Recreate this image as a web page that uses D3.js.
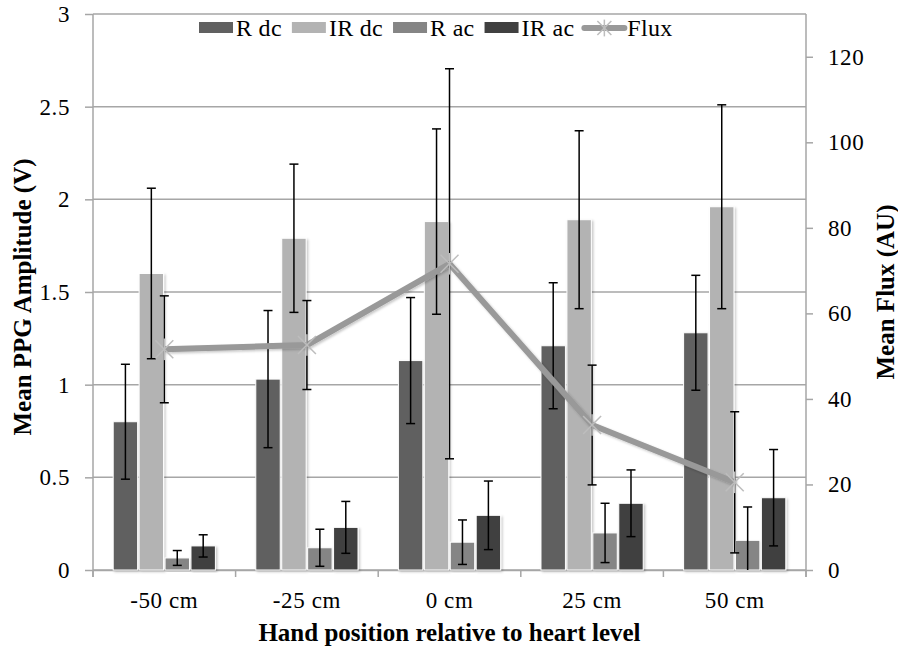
<!DOCTYPE html>
<html lang="en">
<head>
<meta charset="UTF-8">
<title>PPG amplitude and flux vs hand position</title>
<script src="https://d3js.org/d3.v7.min.js"></script>
<style>
    body, html {
        margin: 0;
        padding: 0;
        background: #fff;
        overflow: hidden;
    }
    svg {
        display: block;
    }
</style>
</head>
<body>
<svg id="chart" width="898" height="647"></svg>
<script>

// values
const categories = ["-50 cm", "-25 cm", "0 cm", "25 cm", "50 cm"];
const seriesNames = ["R dc", "IR dc", "R ac", "IR ac"];
const rDc = [0.80, 1.03, 1.13, 1.21, 1.28];
const rDcErr = [0.31, 0.37, 0.34, 0.34, 0.31];
const irDc = [1.60, 1.79, 1.88, 1.89, 1.96];
const irDcErr = [0.46, 0.40, 0.50, 0.48, 0.55];
const rAc = [0.065, 0.12, 0.15, 0.20, 0.16];
const rAcErr = [0.04, 0.10, 0.12, 0.16, 0.18];
const irAc = [0.13, 0.23, 0.295, 0.36, 0.39];
const irAcErr = [0.06, 0.14, 0.185, 0.18, 0.26];
const flux = [51.6, 52.6, 71.6, 33.9, 20.5];
const fluxErr = [12.5, 10.4, 45.6, 14.0, 16.5];
const leftTicks = [0, 0.5, 1, 1.5, 2, 2.5, 3];
const rightTicks = [0, 20, 40, 60, 80, 100, 120];

const barValues = [rDc, irDc, rAc, irAc];
const barErrors = [rDcErr, irDcErr, rAcErr, irAcErr];
const barColors = ["#606060", "#b3b3b3", "#858585", "#404040"];
const fluxColor = "#999999";
const gridColor = "#a6a6a6";
const serif = "Liberation Serif, DejaVu Serif, Noto Serif, serif";

const svg = d3.select("#chart");
const margin = {top: 14, right: 92, bottom: 77, left: 93};
const width = 898 - margin.left - margin.right;
const height = 647 - margin.top - margin.bottom;

// soft shadow like the office chart
const defs = svg.append("defs");
defs.append("filter").attr("id", "shadow")
    .attr("x", "-20%").attr("y", "-5%").attr("width", "150%").attr("height", "115%")
    .append("feDropShadow")
    .attr("dx", 1.5).attr("dy", 1.5).attr("stdDeviation", 1.2)
    .attr("flood-color", "#000").attr("flood-opacity", 0.22);

const g = svg.append("g").attr("transform", `translate(${margin.left},${margin.top})`);

const x0 = d3.scaleBand().domain(categories).range([0, width]);
const barW = x0.bandwidth() / 5.5;
const x1 = d3.scaleBand().domain(seriesNames).range([0, barW * 4]);
const groupOffset = (x0.bandwidth() - barW * 4) / 2;
const y = d3.scaleLinear().domain([0, 3]).range([height, 0]);
const yR = d3.scaleLinear().domain([0, 130]).range([height, 0]);

// gridlines
g.append("g").selectAll("line").data(leftTicks).join("line")
    .attr("x1", 0).attr("x2", width)
    .attr("y1", d => y(d)).attr("y2", d => y(d))
    .attr("stroke", gridColor).attr("stroke-width", 1.5);

function styleAxis(ax) {
    ax.attr("font-family", serif).attr("font-size", 23);
    ax.select(".domain").attr("stroke", gridColor).attr("stroke-width", 1.5);
    ax.selectAll(".tick line").attr("stroke", gridColor).attr("stroke-width", 1.5);
    ax.selectAll("text").attr("fill", "#000").attr("letter-spacing", 0.6);
}

// left axis
const yAxis = g.append("g").call(d3.axisLeft(y).tickValues(leftTicks).tickSize(8).tickPadding(15)
    .tickFormat(d3.format("")));
styleAxis(yAxis);
yAxis.select(".domain").attr("d", `M0,${height + 7}V0`);

// right axis
const yRAxis = g.append("g").attr("transform", `translate(${width},0)`)
    .call(d3.axisRight(yR).tickValues(rightTicks).tickSize(7).tickPadding(15));
styleAxis(yRAxis);
yRAxis.select(".domain").attr("d", `M0,${height + 7}V0`);

// bottom axis: labels in the middle, ticks on the category edges
const xAxis = g.append("g").attr("transform", `translate(0,${height})`)
    .call(d3.axisBottom(x0).tickSize(0).tickPadding(22));
styleAxis(xAxis);
xAxis.append("g").selectAll("line").data(d3.range(categories.length + 1)).join("line")
    .attr("x1", i => i * x0.step()).attr("x2", i => i * x0.step())
    .attr("y1", 0).attr("y2", 7)
    .attr("stroke", gridColor).attr("stroke-width", 1.5);

// bars
const groups = g.append("g").selectAll("g").data(categories).join("g")
    .attr("transform", d => `translate(${x0(d) + groupOffset},0)`);

groups.selectAll("rect").data((d, i) => seriesNames.map((s, k) => ({s, k, v: barValues[k][i]})))
    .join("rect")
    .attr("x", d => x1(d.s) + 0.75)
    .attr("width", x1.bandwidth() - 1.5)
    .attr("y", d => y(d.v))
    .attr("height", d => y(0) - y(d.v))
    .attr("fill", d => barColors[d.k])
    .attr("stroke", "#fff").attr("stroke-width", 1)
    .attr("filter", "url(#shadow)");

// error bars for bars
function errorBar(sel, cx, top, bottom) {
    sel.append("line").attr("x1", cx).attr("x2", cx).attr("y1", top).attr("y2", bottom);
    sel.append("line").attr("x1", cx - 4.5).attr("x2", cx + 4.5).attr("y1", top).attr("y2", top);
    if (bottom < height - 0.5) {
        sel.append("line").attr("x1", cx - 4.5).attr("x2", cx + 4.5).attr("y1", bottom).attr("y2", bottom);
    }
}

const errG = g.append("g").attr("stroke", "#000").attr("stroke-width", 1.5);
categories.forEach((c, i) => {
    seriesNames.forEach((s, k) => {
        const cx = x0(c) + groupOffset + x1(s) + x1.bandwidth() / 2;
        const v = barValues[k][i], e = barErrors[k][i];
        errorBar(errG, cx, y(v + e), y(Math.max(0, v - e)));
    });
});

// flux line
const fx = (d, i) => x0(categories[i]) + x0.bandwidth() / 2;
g.append("path")
    .datum(flux)
    .attr("d", d3.line().x(fx).y(d => yR(d)))
    .attr("fill", "none").attr("stroke", fluxColor).attr("stroke-width", 6)
    .attr("stroke-linejoin", "round")
    .attr("filter", "url(#shadow)");

const fluxErrG = g.append("g").attr("stroke", "#000").attr("stroke-width", 1.5);
flux.forEach((v, i) => {
    errorBar(fluxErrG, fx(v, i), yR(v + fluxErr[i]), yR(Math.max(0, v - fluxErr[i])));
});

function asterisk(sel, cx, cy, r) {
    const a = sel.append("g").attr("transform", `translate(${cx},${cy})`)
        .attr("stroke", "#bdbdbd").attr("stroke-width", 1.5);
    a.append("line").attr("x1", -r).attr("x2", r).attr("y1", -r).attr("y2", r);
    a.append("line").attr("x1", -r).attr("x2", r).attr("y1", r).attr("y2", -r);
    a.append("line").attr("x1", 0).attr("x2", 0).attr("y1", -r * 1.2).attr("y2", r * 1.2);
}
const markG = g.append("g");
flux.forEach((v, i) => asterisk(markG, fx(v, i), yR(v), 9));

// axis titles
svg.append("text")
    .attr("transform", `translate(31,${margin.top + height / 2 + 5}) rotate(-90)`)
    .attr("font-family", serif)
    .attr("text-anchor", "middle").attr("font-size", 25).attr("font-weight", "bold")
    .text("Mean PPG Amplitude (V)");

svg.append("text")
    .attr("transform", `translate(894,${margin.top + height / 2}) rotate(-90)`)
    .attr("font-family", serif)
    .attr("text-anchor", "middle").attr("font-size", 25).attr("font-weight", "bold")
    .text("Mean Flux (AU)");

svg.append("text")
    .attr("x", margin.left + width / 2).attr("y", 641)
    .attr("font-family", serif)
    .attr("text-anchor", "middle").attr("font-size", 25).attr("font-weight", "bold")
    .text("Hand position relative to heart level");

// legend
const legend = svg.append("g").attr("transform", "translate(199,0)");
let lx = 0;
seriesNames.concat(["Flux"]).forEach((name, k) => {
    const item = legend.append("g").attr("transform", `translate(${lx},0)`);
    let sw;
    if (k < 4) {
        sw = 34;
        item.append("rect").attr("x", 0).attr("y", 22).attr("width", sw).attr("height", 11)
            .attr("fill", barColors[k]);
    } else {
        sw = 40;
        item.append("line").attr("x1", 0).attr("x2", sw).attr("y1", 28).attr("y2", 28)
            .attr("stroke", fluxColor).attr("stroke-width", 6).attr("stroke-linecap", "round");
        asterisk(item, sw / 2, 28, 7);
    }
    const t = item.append("text").attr("x", sw + 3).attr("y", 36)
        .attr("font-family", serif)
        .attr("font-size", 24).attr("letter-spacing", 0.3).text(name);
    lx += sw + 3 + t.node().getComputedTextLength() + 10;
});

</script>
</body>
</html>
